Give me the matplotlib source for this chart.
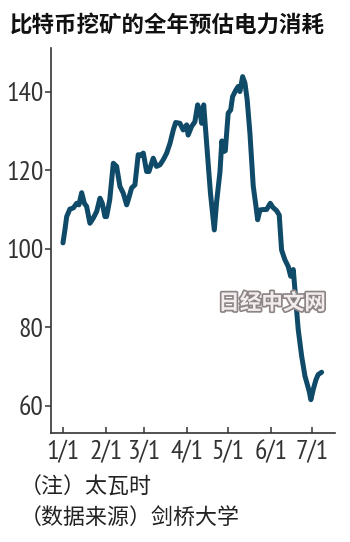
import matplotlib
matplotlib.use("Agg")
import matplotlib.pyplot as plt
import matplotlib.patheffects as pe

# 数据：从图中读取（年内第几天, 太瓦时）
days = [0, 1.5, 2.7, 5, 7.5, 10, 11.6, 13.6, 15.5, 17.2, 19.6, 22, 24.5, 26.9, 28.6,
        30.5, 31.7, 34, 36.6, 39, 41.4, 43.8, 46.3, 47.5, 49.9, 52.3, 54.7, 56.5, 58.4,
        60.8, 62.5, 65.6, 68, 70.5, 72.9, 75.4, 77.8, 80.2, 81.9, 85, 87.4, 89.9, 91,
        93.5, 95.9, 97.9, 99.6, 100.8, 102.3, 103.5, 105.6, 107.2, 110, 111.7, 114.1,
        115.5, 117, 118, 120.1, 121.9, 123.3, 125.7, 127.4, 128.6, 130.6, 132.3, 133.9,
        135.9, 138.3, 140.3, 141.5, 143.2, 145.6, 148, 150.7, 152.5, 155.3, 157.2,
        158.9, 161.3, 163.7, 165.5, 167.4, 168.6, 171, 173.5, 175.9, 177.6, 179,
        180.2, 181.9, 183.9, 185.5, 188]
twh = [101.5, 105, 108.2, 110.1, 110.4, 111.6, 111.2, 114.3, 111.6, 110.8, 106.5, 107.8,
       109.5, 112.9, 111.6, 108.2, 108.2, 112.5, 121.8, 121, 115.9, 114.2, 111.2, 112.5,
       115.5, 116.3, 124, 123.8, 124.4, 119.7, 119.7, 123.1, 121, 121.4, 122.7, 124.4,
       126.9, 130.3, 132.2, 132, 130.3, 131.6, 129, 131.2, 132.4, 136.7, 135, 132,
       136.7, 131.2, 121.5, 114.2, 104.8, 112, 119.5, 127.5, 124.8, 125, 134.6, 135.4,
       138.8, 140.5, 141.4, 140.1, 143.9, 142.2, 138, 129.5, 116, 110.8, 107.4, 109.9,
       110, 110, 111.6, 110.6, 109.7, 108.6, 99.7, 97.2, 95.5, 93, 94.7, 89.6, 79.4,
       72.6, 67.5, 65.4, 63.6, 61.5, 64.1, 66.6, 67.9, 68.5]

month_days = [0, 31, 59, 90, 120, 151, 181]
month_labels = ["1/1", "2/1", "3/1", "4/1", "5/1", "6/1", "7/1"]
y_ticks = [60, 80, 100, 120, 140]

title = "比特币挖矿的全年预估电力消耗"
note1 = "（注）太瓦时"
note2 = "（数据来源）剑桥大学"
watermark = "日经中文网"

plt.rcParams['font.family'] = ['Noto Sans CJK SC', 'DejaVu Sans']
tick_font = ['PT Sans Narrow', 'Roboto Condensed', 'DejaVu Sans']

fig = plt.figure(figsize=(3.5, 5.42), dpi=100)
ax = fig.add_axes([0.1457, 0.2011, 0.957 - 0.1457, 0.9114 - 0.2011])

ax.plot(days, twh, color='#0f4a68', linewidth=3.6, solid_joinstyle='round', solid_capstyle='round')

ax.set_xlim(-8.7, 197.7)
ax.set_ylim(53, 151.2)
ax.set_xticks(month_days)
ax.set_xticklabels(month_labels)
ax.set_yticks(y_ticks)
ax.set_yticklabels([str(v) for v in y_ticks])
for lab in ax.get_xticklabels() + ax.get_yticklabels():
    lab.set_family(tick_font)
    lab.set_fontsize(20)
    lab.set_color('#222222')

ax.spines['top'].set_visible(False)
ax.spines['right'].set_visible(False)
for s in ['left', 'bottom']:
    ax.spines[s].set_linewidth(1.2)
    ax.spines[s].set_color('#333333')
ax.tick_params(axis='y', direction='out', length=4, width=1.1, pad=1.5, colors='#333333')
ax.tick_params(axis='x', direction='in', length=4, width=1.1, pad=5, colors='#333333')

fig.text(10 / 350, 1 - 25 / 542, title, fontsize=16.2, fontweight='bold',
         ha='left', va='center', color='#111111')
fig.text(20 / 350, 1 - 488 / 542, note1, fontsize=15.8, ha='left', va='center', color='#222222')
fig.text(20 / 350, 1 - 518 / 542, note2, fontsize=15.8, ha='left', va='center', color='#222222')

fig.text(272 / 350, 1 - 303 / 542, watermark, fontsize=15.5, fontweight='bold',
         ha='center', va='center', color='#f2eeee',
         path_effects=[pe.withStroke(linewidth=2.5, foreground='#8f8586')])

fig.savefig("out.png", dpi=100)
